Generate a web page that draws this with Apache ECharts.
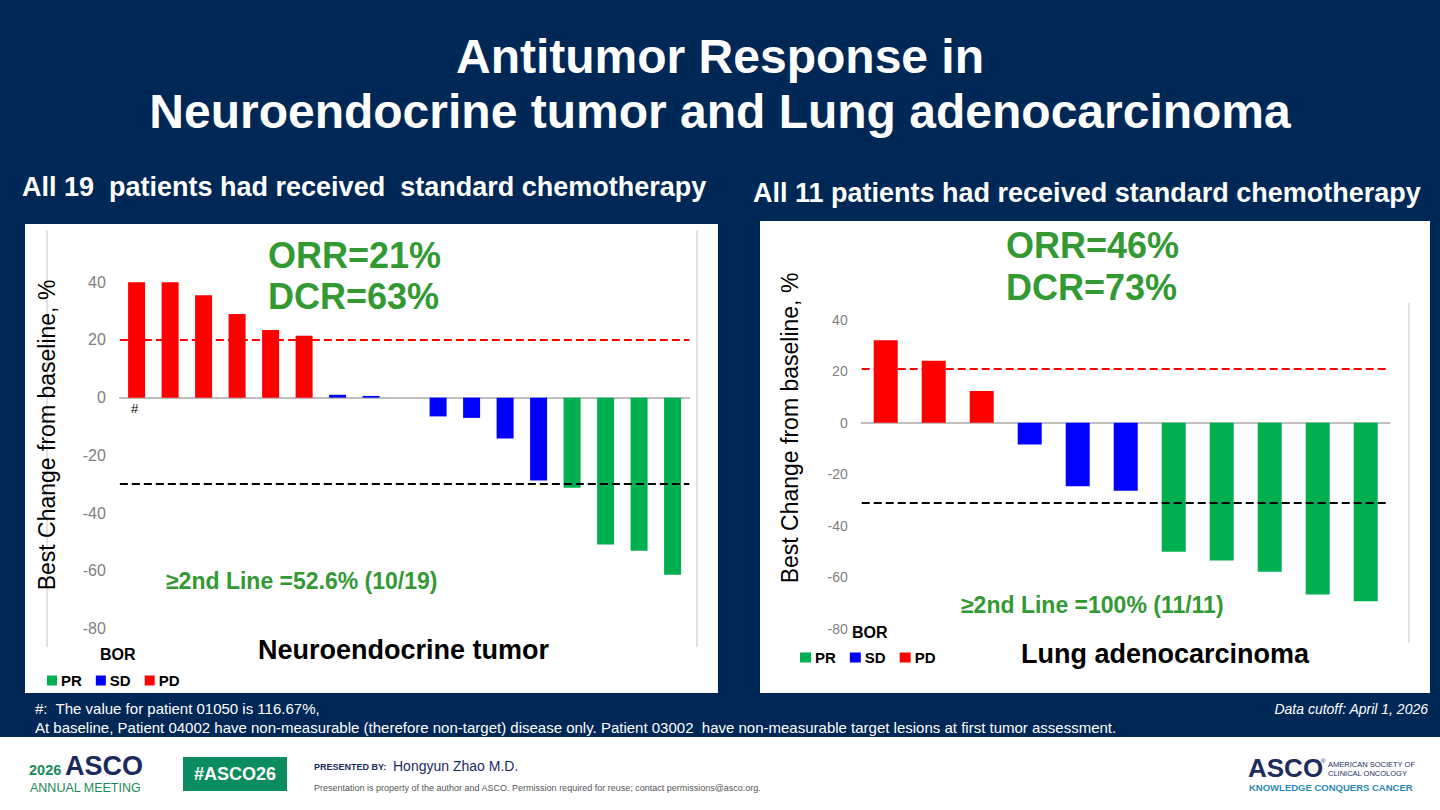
<!DOCTYPE html>
<html><head><meta charset="utf-8">
<script src="https://cdn.jsdelivr.net/npm/echarts@6/dist/echarts.min.js"></script>
<style>html,body{margin:0;padding:0;background:#002856;}#c{width:1440px;height:810px;}</style>
</head><body><div id="c"></div>
<script>
// ---------- DATA ----------
const netCategories = ['1','2','3','4','5','6','7','8','9','10','11','12','13','14','15','16','17'];
const netValues = [40, 40, 35.5, 29, 23.5, 21.5, 1, 0.6, 0, -6.5, -7, -14.2, -28.7, -31.2, -50.9, -53.1, -61.4];
const netBor = ['PD','PD','PD','PD','PD','PD','SD','SD','SD','SD','SD','SD','SD','PR','PR','PR','PR'];

const lungCategories = ['1','2','3','4','5','6','7','8','9','10','11'];
const lungValues = [32, 24, 12.3, -8.4, -24.6, -26.4, -50, -53.4, -57.8, -66.6, -69.2];
const lungBor = ['PD','PD','PD','SD','SD','SD','PR','PR','PR','PR','PR'];

const borTypes = ['PR','SD','PD'];
const yMin = -80, yMax = 40, yStep = 20;
const netThresholds = [20, -30];
const lungThresholds = [20.8, -31];

// ---------- STYLE ----------
const NAVY = '#002856';
const FONT = "'Liberation Sans', Arial, sans-serif";
const borColor = {PR:'#00b050', SD:'#0000ff', PD:'#ff0000'};
const GREEN_TXT = '#339933';

const chart = echarts.init(document.getElementById('c'), null, {renderer:'svg'});

function T(text, x, y, size, o) {
  o = o || {};
  return {
    type:'text', x:x, y:y, rotation:o.rot||0, z:o.z||5,
    style:{
      text:text, fill:o.color||'#000',
      font:(o.italic?'italic ':'')+(o.bold?'bold ':'')+size+'px '+(o.family||FONT),
      textAlign:o.align||'left', align:o.align||'left',
      textVerticalAlign:'middle', verticalAlign:'middle'
    }
  };
}
function R(x,y,w,h,fill,z){ return {type:'rect', z:z==null?-1:z, shape:{x:x,y:y,width:w,height:h}, style:{fill:fill}}; }
function L(x1,y1,x2,y2,color,w){ return {type:'line', z:-0.5, shape:{x1:x1,y1:y1,x2:x2,y2:y2}, style:{stroke:color,lineWidth:w}}; }

function buildSeries(values, bor, cats, gi, barW, thresholds, stackName, withHash) {
  return borTypes.map((b, k) => {
    const s = {
      name:b, type:'bar', stack:stackName, xAxisIndex:gi, yAxisIndex:gi,
      barWidth:barW, itemStyle:{color:borColor[b]},
      data: values.map((v,i)=> bor[i]===b ? v : null),
      animation:false
    };
    if (k === 0) {
      s.markLine = {
        silent:true, symbol:['none','none'], label:{show:false}, animation:false,
        data:[
          {yAxis:thresholds[0], lineStyle:{color:'#ff0000', type:[8,4], width:2}},
          {yAxis:thresholds[1], lineStyle:{color:'#000000', type:[8,4], width:2}}
        ]
      };
    }
    if (withHash && b === 'PD') {
      s.markPoint = {
        silent:true, symbol:'circle', symbolSize:1, itemStyle:{color:'rgba(0,0,0,0)'},
        label:{show:true, formatter:'#', color:'#000', fontSize:13, fontFamily:FONT, offset:[-2,11]},
        data:[{coord:[cats[0], 0]}]
      };
    }
    return s;
  });
}

const option = {
  backgroundColor: NAVY,
  animation:false,
  grid:[
    {left:119.85, top:282.3, width:569.5, height:346.1, outerBoundsMode:'none', containLabel:false},
    {left:861.7, top:319.6, width:528, height:309.4, outerBoundsMode:'none', containLabel:false}
  ],
  xAxis:[
    {type:'category', gridIndex:0, data:netCategories, axisTick:{show:false}, axisLabel:{show:false},
     axisLine:{onZero:true, lineStyle:{color:'#bfbfbf', width:2}}, splitLine:{show:false}},
    {type:'category', gridIndex:1, data:lungCategories, axisTick:{show:false}, axisLabel:{show:false},
     axisLine:{onZero:true, lineStyle:{color:'#bfbfbf', width:2}}, splitLine:{show:false}}
  ],
  yAxis:[
    {type:'value', gridIndex:0, min:yMin, max:yMax, interval:yStep, axisLine:{show:false}, axisTick:{show:false},
     splitLine:{show:false}, axisLabel:{color:'#808080', fontSize:16, fontFamily:FONT, margin:14}},
    {type:'value', gridIndex:1, min:yMin, max:yMax, interval:yStep, axisLine:{show:false}, axisTick:{show:false},
     splitLine:{show:false}, axisLabel:{color:'#808080', fontSize:14, fontFamily:FONT, margin:14}}
  ],
  legend:[
    {data:borTypes, left:47, top:673, padding:0, icon:'rect', itemWidth:10, itemHeight:10, itemGap:14,
     selectedMode:false, textStyle:{color:'#000', fontSize:15, fontWeight:'bold', fontFamily:FONT, padding:[0,0,0,-1]}},
    {data:borTypes, left:800, top:650, padding:0, icon:'rect', itemWidth:11, itemHeight:10, itemGap:14,
     selectedMode:false, textStyle:{color:'#000', fontSize:15, fontWeight:'bold', fontFamily:FONT, padding:[0,0,0,-1]}}
  ],
  series: [].concat(
    buildSeries(netValues, netBor, netCategories, 0, 17, netThresholds, 'net', true),
    buildSeries(lungValues, lungBor, lungCategories, 1, 24, lungThresholds, 'lung', false)
  ),
  graphic:{elements:[
    // panels and bands
    R(25, 224, 693, 469, '#ffffff', -2),
    R(760, 221, 670, 472, '#ffffff', -2),
    R(0, 737, 1440, 73, '#ffffff', -2),
    L(47, 230, 47, 647, '#d9d9d9', 1.5),
    L(697, 230, 697, 647, '#d9d9d9', 1.5),
    L(1409, 303, 1409, 643, '#d9d9d9', 1.5),
    // titles
    T('Antitumor Response in', 720, 56, 48, {bold:true, color:'#fff', align:'center'}),
    T('Neuroendocrine tumor and Lung adenocarcinoma', 720, 111, 48, {bold:true, color:'#fff', align:'center'}),
    T('All 19  patients had received  standard chemotherapy', 22, 187, 27, {bold:true, color:'#fff'}),
    T('All 11 patients had received standard chemotherapy', 753, 193, 27, {bold:true, color:'#fff'}),
    // left chart texts
    T('Best Change from baseline, %', 47, 435, 23, {rot:Math.PI/2, align:'center'}),
    T('ORR=21%', 268, 255, 36, {bold:true, color:GREEN_TXT}),
    T('DCR=63%', 268, 296, 36, {bold:true, color:GREEN_TXT}),
    T('\u22652nd Line =52.6% (10/19)', 166, 581, 23, {bold:true, color:GREEN_TXT}),
    T('Neuroendocrine tumor', 258, 650, 27, {bold:true}),
    T('BOR', 100, 654, 16, {bold:true}),
    // right chart texts
    T('Best Change from baseline, %', 790, 428, 23, {rot:Math.PI/2, align:'center'}),
    T('ORR=46%', 1006, 245, 36, {bold:true, color:GREEN_TXT}),
    T('DCR=73%', 1006, 287, 36, {bold:true, color:GREEN_TXT}),
    T('\u22652nd Line =100% (11/11)', 961, 605, 23, {bold:true, color:GREEN_TXT}),
    T('Lung adenocarcinoma', 1021, 654, 27, {bold:true}),
    T('BOR', 852, 632, 16, {bold:true}),
    // footnotes
    T('#:  The value for patient 01050 is 116.67%,', 35, 708, 15, {color:'#fff'}),
    T('At baseline, Patient 04002 have non-measurable (therefore non-target) disease only. Patient 03002  have non-measurable target lesions at first tumor assessment.', 35, 727, 15, {color:'#fff'}),
    T('Data cutoff: April 1, 2026', 1428, 709, 14, {italic:true, color:'#fff', align:'right'}),
    // bottom logos
    T('2026', 29, 770, 14.5, {bold:true, color:'#1a8a5a'}),
    T('ASCO', 65, 766, 27, {bold:true, color:'#1b2a5e'}),
    T('ANNUAL MEETING', 30, 788, 12.5, {color:'#1a8a5a'}),
    R(183, 757, 104, 34, '#0b8c5e', 1),
    T('#ASCO26', 235, 774, 18, {bold:true, color:'#fff', align:'center'}),
    T('PRESENTED BY:', 314, 767, 9, {bold:true, color:'#1b2a5e'}),
    T('Hongyun Zhao M.D.', 393, 766, 14, {color:'#1b2a5e'}),
    T('Presentation is property of the author and ASCO. Permission required for reuse; contact permissions@asco.org.', 314, 788, 9, {color:'#555'}),
    T('ASCO', 1248, 768, 26, {bold:true, color:'#1d2d5c'}),
    T('\u00ae', 1321, 761, 6, {color:'#1d2d5c'}),
    T('AMERICAN SOCIETY OF', 1328, 764, 7.5, {color:'#1d2d5c'}),
    T('CLINICAL ONCOLOGY', 1328, 773, 7.5, {color:'#1d2d5c'}),
    T('KNOWLEDGE CONQUERS CANCER', 1249, 787, 9.5, {bold:true, color:'#2b8ab5'})
  ]}
};
chart.setOption(option);
</script></body></html>
